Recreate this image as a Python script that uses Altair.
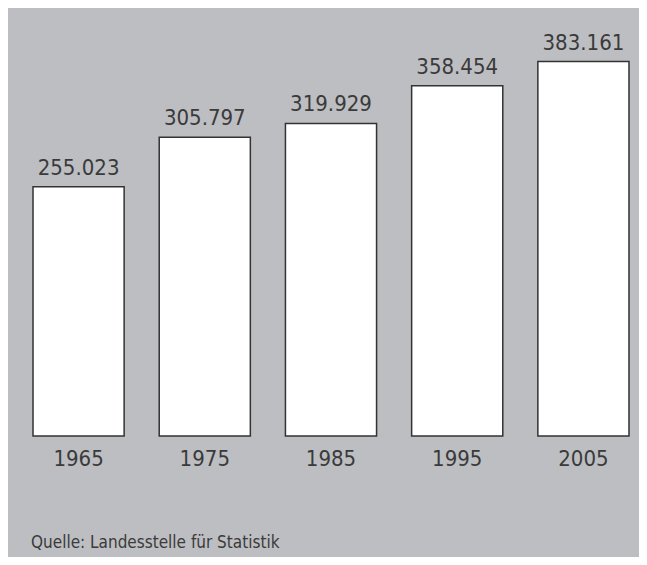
import altair as alt
import pandas as pd

years = ["1965", "1975", "1985", "1995", "2005"]
values = [255023, 305797, 319929, 358454, 383161]
source_note = "Quelle: Landesstelle für Statistik"

FONT = "Liberation Sans Narrow, DejaVu Sans Condensed, Roboto Condensed, Liberation Sans, sans-serif"
BG = "#bdbec2"
TXT = "#3a3a3a"

df = pd.DataFrame({
    "Jahr": years,
    "Wert": values,
    "Label": [f"{v:,}".replace(",", ".") for v in values],
})

x = alt.X("Jahr:N", sort=years,
          scale=alt.Scale(paddingInner=0.278, paddingOuter=0.0635),
          axis=alt.Axis(title=None, domain=False, ticks=False, labelAngle=0,
                        labelFont=FONT, labelFontSize=22, labelColor=TXT,
                        labelPadding=12))
y = alt.Y("Wert:Q", scale=alt.Scale(domain=[0, 438000], nice=False, zero=True), axis=None)

base = alt.Chart(df)

bars = base.mark_bar(fill="white", stroke="#333333", strokeWidth=1.5).encode(x=x, y=y)

labels = base.mark_text(font=FONT, fontSize=22, color=TXT, baseline="alphabetic",
                        dy=-12).encode(x=alt.X("Jahr:N", sort=years), y="Wert:Q", text="Label:N")

note = alt.Chart(pd.DataFrame({"t": [source_note]})).mark_text(
    font=FONT, fontSize=17, color=TXT, align="left", baseline="middle"
).encode(x=alt.value(6), y=alt.value(535), text="t:N")

chart = alt.layer(bars, labels, note).properties(
    width=612, height=428,
    background=BG,
    padding={"left": 17, "top": 0, "right": 2, "bottom": 121},
    autosize=alt.AutoSizeParams(type="none"),
).configure_view(stroke=None)

chart.save("out.html", embed_options={"renderer": "svg", "actions": False})
